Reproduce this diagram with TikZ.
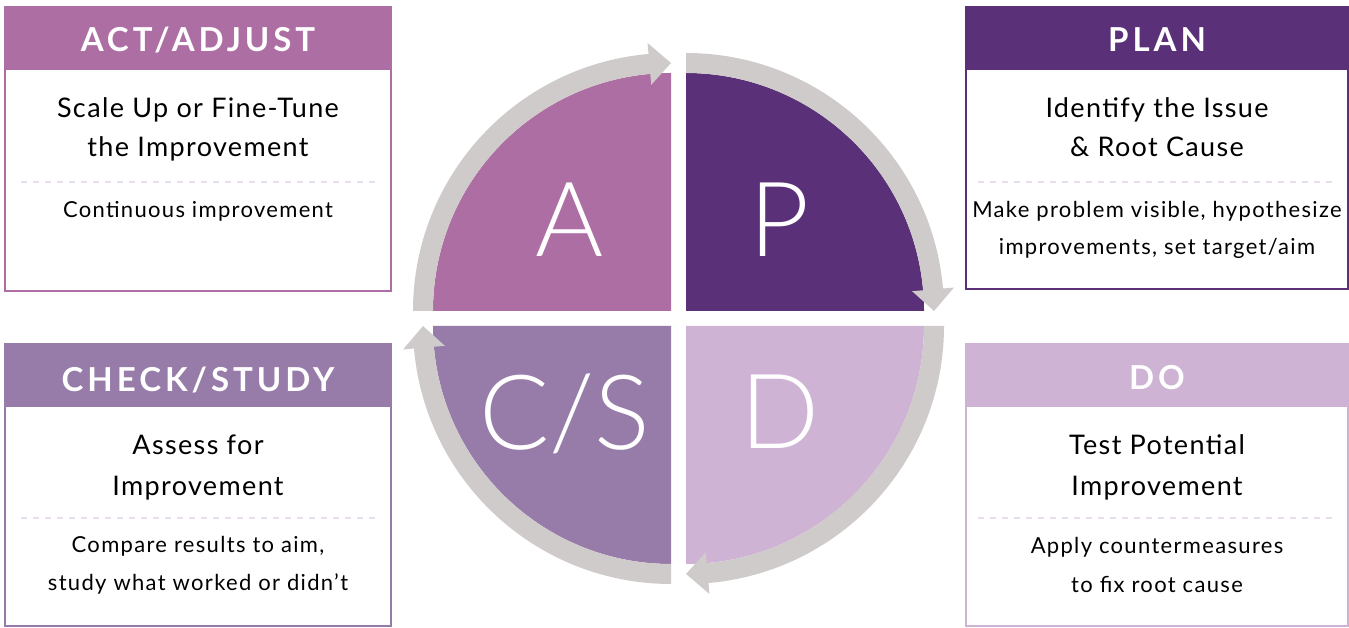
\documentclass[tikz,border=0pt]{standalone}
\usepackage{fontspec}
\usetikzlibrary{calc}
\setmainfont{Lato}
\newfontfamily\headfont{Lato}[LetterSpace=12]
\newfontfamily\titlefont{Lato}[LetterSpace=5]
\newfontfamily\subfont{Lato}[LetterSpace=6]
\newfontfamily\bigfont{Lato Light}
\definecolor{cA}{HTML}{AD6EA3}
\definecolor{cP}{HTML}{5A3079}
\definecolor{cC}{HTML}{977CAA}
\definecolor{cD}{HTML}{CFB3D5}
\definecolor{agray}{HTML}{CFCBCA}
\definecolor{dashc}{HTML}{EADDEE}
\newcommand\pdcaArrow[3]{%
  \fill[agray] ($(#1)+(#2:258)$) arc[start angle=#2, end angle=#3+5, radius=258]
    -- ($(#1)+(#3+5:269)$) -- ($(#1)+(#3:248)$) -- ($(#1)+(#3+5:227)$)
    -- ($(#1)+(#3+5:238)$) arc[start angle=#3+5, end angle=#2, radius=238] -- cycle;}
\begin{document}
\begin{tikzpicture}[x=0.5pt,y=0.5pt,
  boxline/.style={line width=1pt, fill=white},
  headtxt/.style={anchor=base, text=white, inner sep=0pt, font=\headfont\bfseries\fontsize{16.5}{20}\selectfont},
  titletxt/.style={anchor=base, text=black, inner sep=0pt, font=\titlefont\fontsize{13.5}{16}\selectfont},
  subtxt/.style={anchor=base, text=black, inner sep=0pt, font=\subfont\fontsize{11}{13}\selectfont},
  bigtxt/.style={anchor=base, text=white, inner sep=0pt, font=\bigfont\fontsize{52}{60}\selectfont},
  dashline/.style={dashc, line width=1pt, dash pattern=on 3pt off 3pt}]
\useasboundingbox (0,0) rectangle (1349,627);
% corners of the quadrants
\coordinate (kA) at (671,316);
\coordinate (kP) at (686,316);
\coordinate (kD) at (686,301);
\coordinate (kC) at (671,301);
% quadrants
\fill[cA] (kA) -- ++(180:238) arc[start angle=180, end angle=90, radius=238] -- cycle;
\fill[cP] (kP) -- ++(90:238) arc[start angle=90, end angle=0, radius=238] -- cycle;
\fill[cD] (kD) -- ++(0:238) arc[start angle=0, end angle=-90, radius=238] -- cycle;
\fill[cC] (kC) -- ++(-90:238) arc[start angle=-90, end angle=-180, radius=238] -- cycle;
% arrows
\pdcaArrow{kA}{180}{90}
\pdcaArrow{kP}{90}{0}
\pdcaArrow{kD}{0}{-90}
\pdcaArrow{kC}{-90}{-180}
% big letters
\node[bigtxt] (lA) at (570,370) {A};
\node[bigtxt] (lP) at (780,370) {P};
\node[bigtxt] (lC) at (565,177) {C/S};
\node[bigtxt] (lD) at (780,178) {D};
% ACT/ADJUST box
\draw[cA, boxline] (5,336) rectangle (391,620);
\fill[cA] (4.5,557) rectangle (391.5,620.5);
\node[headtxt] (aH) at (198,575) {ACT/ADJUST};
\node[titletxt] (aT1) at (198,509) {Scale Up or Fine-Tune};
\node[titletxt] (aT2) at (198,470) {the Improvement};
\draw[dashline] (21,445) -- (375,445);
\node[subtxt] (aS1) at (198,409) {Continuous improvement};
% PLAN box
\draw[cP, boxline] (966,338) rectangle (1348,620);
\fill[cP] (965.5,557) rectangle (1348.5,620.5);
\node[headtxt] (pH) at (1157,575) {PLAN};
\node[titletxt] (pT1) at (1157,509) {Identify the Issue};
\node[titletxt] (pT2) at (1157,470) {\& Root Cause};
\draw[dashline] (978,445) -- (1334,445);
\node[subtxt] (pS1) at (1157,409) {Make problem visible, hypothesize};
\node[subtxt] (pS2) at (1157,372) {improvements, set target/aim};
% CHECK/STUDY box
\draw[cC, boxline] (5,1) rectangle (391,283);
\fill[cC] (4.5,220) rectangle (391.5,283.5);
\node[headtxt] (cH) at (198,235) {CHECK/STUDY};
\node[titletxt] (cT1) at (198,172) {Assess for};
\node[titletxt] (cT2) at (198,132) {Improvement};
\draw[dashline] (21,109) -- (375,109);
\node[subtxt] (cS1) at (198,75) {Compare results to aim,};
\node[subtxt] (cS2) at (198,37) {study what worked or didn’t};
% DO box
\draw[cD, boxline] (966,1) rectangle (1348,283);
\fill[cD] (965.5,220) rectangle (1348.5,283.5);
\node[headtxt] (dH) at (1157,237) {DO};
\node[titletxt] (dT1) at (1157,172) {Test Potential};
\node[titletxt] (dT2) at (1157,132) {Improvement};
\draw[dashline] (978,109) -- (1334,109);
\node[subtxt] (dS1) at (1157,74) {Apply countermeasures};
\node[subtxt] (dS2) at (1157,35) {to fix root cause};
\end{tikzpicture}
\end{document}
